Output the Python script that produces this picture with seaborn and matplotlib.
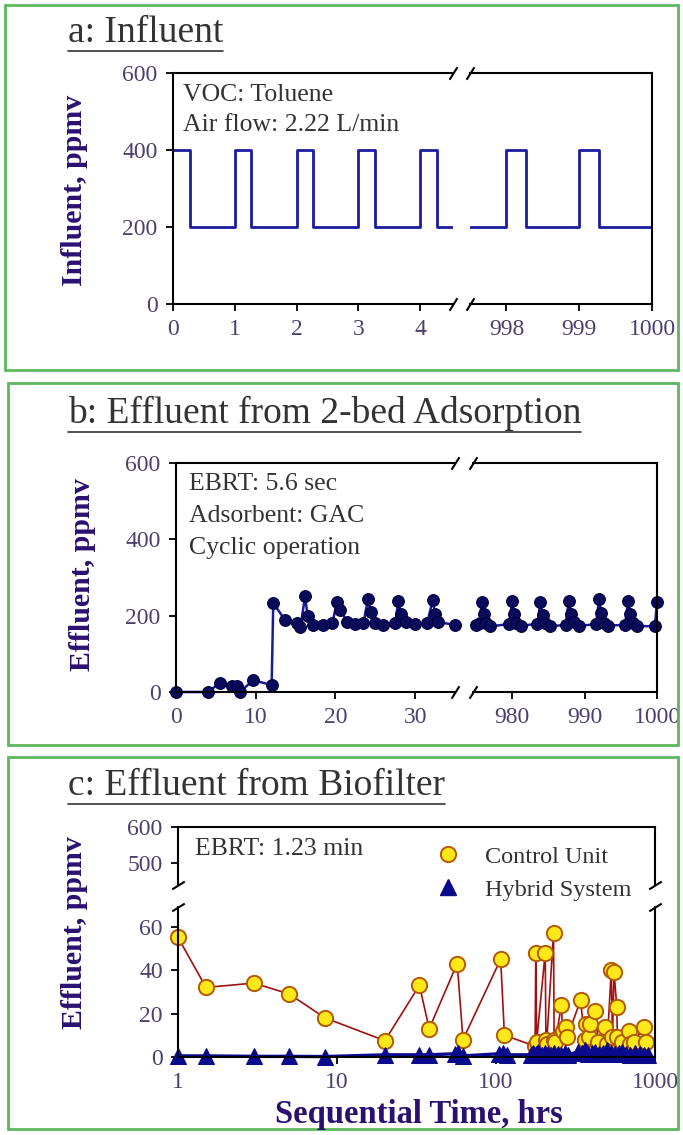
import numpy as np
import pandas as pd
import matplotlib
matplotlib.use("Agg")
import matplotlib.pyplot as plt
import seaborn as sns
from matplotlib.patches import Rectangle
from matplotlib.lines import Line2D
from matplotlib.ticker import NullLocator

# ---- data ----
# a: influent square wave (hrs, ppmv)
a_t_left = [0, 0.27, 1, 1.27, 2, 2.27, 3, 3.27, 4, 4.27, 4.53]
a_y_left = [400, 200, 400, 200, 400, 200, 400, 200, 400, 200, 200]
a_t_right = [997.5, 998, 998.27, 999, 999.27, 1000]
a_y_right = [200, 400, 200, 400, 200, 400]
a_ticks_left = [0, 1, 2, 3, 4]
a_ticks_right = [998, 999, 1000]

# b: effluent from 2-bed adsorption
b_t_left = [0, 4, 5.5, 7, 7.7, 8, 9.7, 12, 12.2, 13.7, 15.2, 15.6, 16.2, 16.5, 17.2,
            18.5, 19.6, 20.2, 20.6, 21.5, 22.5, 23.5, 24.1, 24.4, 25, 26, 27.5, 27.9,
            28.2, 28.8, 30, 31.5, 32.2, 32.5, 32.9, 35]
b_y_left = [0, 0, 24, 16, 16, 0, 31, 18, 233, 188, 181, 170, 251, 200, 175,
            176, 180, 236, 215, 183, 178, 180, 244, 210, 180, 176, 180, 238,
            205, 183, 177, 180, 240, 205, 183, 176]
b_t_right = [975, 975.5, 975.8, 976.1, 976.4, 977, 979.6, 980, 980.3, 980.6, 981.2,
             983.5, 983.9, 984.2, 984.6, 985.2, 987.4, 987.8, 988.1, 988.5, 989.2,
             991.6, 992, 992.3, 992.7, 993.3, 995.6, 996, 996.3, 996.7, 997.3,
             999.7, 1000]
b_y_right = [176, 180, 235, 205, 180, 172, 178, 238, 205, 182, 173,
             179, 236, 203, 181, 172, 176, 238, 205, 183, 173,
             178, 243, 208, 182, 174, 176, 238, 205, 181, 173,
             172, 236]
b_ticks_left = [0, 10, 20, 30]
b_ticks_right = [980, 990, 1000]

# c: effluent from biofilter
ctrl_t = [1, 1.5, 3, 5, 8.4, 20, 33, 38, 57, 62, 107, 113, 176, 178, 180, 204, 206,
          208, 230, 232, 236, 258, 262, 275, 280, 340, 362, 370, 382, 390, 420, 440,
          485, 500, 531, 540, 553, 575, 580, 620, 685, 700, 740, 853, 880]
ctrl_y = [55, 32, 34, 29, 18, 7.5, 33, 13, 43, 8, 45, 10, 5, 48, 7, 48, 8,
          6, 57, 8, 7, 24, 12, 14, 9, 26, 8, 15, 9, 15, 21, 7,
          14, 6, 40, 9, 39, 23, 9, 7, 12, 6, 7, 14, 7]
hyb_t = [1, 1.5, 3, 5, 8.4, 20, 33, 38, 55, 58, 62, 105, 110, 118, 165, 172, 178,
         185, 195, 204, 212, 222, 232, 245, 258, 270, 285, 330, 345, 362, 380, 400,
         420, 445, 470, 500, 530, 560, 590, 620, 660, 700, 750, 800, 850, 900]
hyb_y = [0.5, 0.5, 0.3, 0.3, 0.2, 1, 1, 1, 1.5, 2, 0.5, 1.5, 2, 1, 1, 2, 1.5,
         2.5, 1, 2, 1.5, 1, 2, 1.5, 1, 2, 1, 2.5, 2, 3, 1.5, 2,
         2.5, 1.5, 2, 3, 2, 1.5, 2, 2.5, 1.5, 1, 2, 1.5, 1, 1]
c_xticks = [1, 10, 100, 1000]
c_yticks_top = [500, 600]
c_yticks_bot = [0, 20, 40, 60]

# ---- figure ----
sns.set_theme(style="white")
plt.rcParams["font.family"] = ["Liberation Serif", "DejaVu Serif"]

W, H = 683, 1135
fig = plt.figure(figsize=(W / 100, H / 100), dpi=100)
fig.patch.set_facecolor("white")

TICK_C = "#4d3f6e"
LAB_C = "#2a1070"
TXT_C = "#333333"
GREEN = "#5cb85c"


def px(l, t, r, b):
    return [l / W, 1 - b / H, (r - l) / W, (b - t) / H]


def style(ax, left=True, right=True, top=True, bottom=True):
    ax.set_facecolor("none")
    for side, on in zip(["left", "right", "top", "bottom"], [left, right, top, bottom]):
        ax.spines[side].set_visible(on)
        ax.spines[side].set_color("black")
        ax.spines[side].set_linewidth(1.5)
    ax.tick_params(direction="out", length=5, width=1.3, color="black",
                   labelsize=17, labelcolor=TICK_C, pad=6,
                   left=left, bottom=bottom, labelleft=left, labelbottom=bottom)
    ax.set_xlabel("")
    ax.set_ylabel("")


def xbreak(ax_l, ax_r):
    kw = dict(marker=[(-1, -1.6), (1, 1.6)], markersize=9, linestyle="none",
              color="black", mec="black", mew=1.5, clip_on=False)
    ax_l.plot([1, 1], [0, 1], transform=ax_l.transAxes, **kw)
    ax_r.plot([0, 0], [0, 1], transform=ax_r.transAxes, **kw)


# green panel frames
for l, t, r, b in [(5, 5, 678, 370), (8, 383, 678, 745), (8, 757, 678, 1129)]:
    fig.add_artist(Rectangle((l / W, 1 - b / H), (r - l) / W, (b - t) / H,
                             transform=fig.transFigure, fill=False,
                             edgecolor=GREEN, linewidth=2))

titles = []
for txt, y in [("a: Influent", 33), ("b: Effluent from 2-bed Adsorption", 413),
               ("c: Effluent from Biofilter", 786)]:
    titles.append(fig.text(68 / W, 1 - y / H, txt, fontsize=27, color=TXT_C,
                           ha="left", va="center"))

# ---- panel a ----
axa1 = fig.add_axes(px(173, 73, 453, 304))
axa2 = fig.add_axes(px(470, 73, 652, 304))
sns.lineplot(x=a_t_left, y=a_y_left, ax=axa1, color="#1c1ca0", lw=2,
             drawstyle="steps-post", estimator=None, sort=False)
sns.lineplot(x=a_t_right, y=a_y_right, ax=axa2, color="#1c1ca0", lw=2,
             drawstyle="steps-post", estimator=None, sort=False)
axa1.set_xlim(0, 4.53)
axa2.set_xlim(997.5, 1000)
for ax in (axa1, axa2):
    ax.set_ylim(0, 600)
    ax.set_yticks([0, 200, 400, 600])
axa1.set_xticks(a_ticks_left)
axa2.set_xticks(a_ticks_right)
style(axa1, right=False)
style(axa2, left=False)
xbreak(axa1, axa2)
fig.text(75 / W, 1 - 190 / H, "Influent, ppmv", rotation=90, fontsize=21.5,
         fontweight="bold", color=LAB_C, ha="center", va="center")
axa1.text(0.035, 0.905, "VOC: Toluene", transform=axa1.transAxes, fontsize=18.5,
          color=TXT_C, va="center")
axa1.text(0.035, 0.775, "Air flow: 2.22 L/min", transform=axa1.transAxes,
          fontsize=18.5, color=TXT_C, va="center")

# ---- panel b ----
axb1 = fig.add_axes(px(176, 463, 455, 692))
axb2 = fig.add_axes(px(473, 463, 657, 692))
bkw = dict(color="#1a1aa0", lw=1.8, marker="o", markersize=8.5,
           markerfacecolor="#0b0b5c", markeredgecolor="#000040",
           estimator=None, sort=False, clip_on=False)
sns.lineplot(x=b_t_left, y=b_y_left, ax=axb1, **bkw)
sns.lineplot(x=b_t_right, y=b_y_right, ax=axb2, **bkw)
axb1.set_xlim(0, 35)
axb2.set_xlim(974.6, 1000)
for ax in (axb1, axb2):
    ax.set_ylim(0, 600)
    ax.set_yticks([0, 200, 400, 600])
axb1.set_xticks(b_ticks_left)
axb2.set_xticks(b_ticks_right)
style(axb1, right=False)
style(axb2, left=False)
xbreak(axb1, axb2)
fig.text(82 / W, 1 - 575 / H, "Effluent, ppmv", rotation=90, fontsize=21.5,
         fontweight="bold", color=LAB_C, ha="center", va="center")
for i, s in enumerate(["EBRT: 5.6 sec", "Adsorbent: GAC", "Cyclic operation"]):
    axb1.text(0.045, 0.91 - i * 0.14, s, transform=axb1.transAxes, fontsize=18.5,
              color=TXT_C, va="center")

# ---- panel c ----
axc1 = fig.add_axes(px(178, 827, 655, 885))
axc2 = fig.add_axes(px(178, 907, 655, 1057))
sns.lineplot(x=ctrl_t, y=ctrl_y, ax=axc2, color="#a01010", lw=1.2, marker="o",
             markersize=11, markerfacecolor="#ffe81a", markeredgecolor="#b35900",
             markeredgewidth=1.4, estimator=None, sort=False, clip_on=False)
sns.lineplot(x=hyb_t, y=hyb_y, ax=axc2, color="#0a0a8c", lw=2.4, marker="^",
             markersize=11, markerfacecolor="#0a0a8c", markeredgecolor="#0a0a8c",
             estimator=None, sort=False, clip_on=False)
for ax in (axc1, axc2):
    ax.set_xscale("log")
    ax.set_xlim(1, 1000)
    ax.xaxis.set_minor_locator(NullLocator())
axc1.set_ylim(439, 600)
axc1.set_yticks(c_yticks_top)
axc2.set_ylim(0, 69)
axc2.set_yticks(c_yticks_bot)
axc2.set_xticks(c_xticks)
axc2.set_xticklabels([str(v) for v in c_xticks])
style(axc1, bottom=False)
style(axc2, top=False)
axc1.tick_params(right=False)
axc2.tick_params(right=False)
ykw = dict(marker=[(-1.6, -1), (1.6, 1)], markersize=9, linestyle="none",
           color="black", mec="black", mew=1.5, clip_on=False)
axc1.plot([0, 1], [0, 0], transform=axc1.transAxes, **ykw)
axc2.plot([0, 1], [1, 1], transform=axc2.transAxes, **ykw)
fig.text(75 / W, 1 - 933 / H, "Effluent, ppmv", rotation=90, fontsize=21.5,
         fontweight="bold", color=LAB_C, ha="center", va="center")
fig.text(419 / W, 1 - 1114 / H, "Sequential Time, hrs", fontsize=23.5,
         fontweight="bold", color=LAB_C, ha="center", va="center")
axc1.text(0.035, 0.62, "EBRT: 1.23 min", transform=axc1.transAxes, fontsize=18.5,
          color=TXT_C, va="center")
handles = [Line2D([], [], ls="none", marker="o", markersize=11,
                  markerfacecolor="#ffe81a", markeredgecolor="#b35900",
                  markeredgewidth=1.4),
           Line2D([], [], ls="none", marker="^", markersize=11,
                  markerfacecolor="#0a0a8c", markeredgecolor="#0a0a8c")]
fig.legend(handles, ["Control Unit", "Hybrid System"], loc="upper left",
           bbox_to_anchor=(402 / W, 1 - 824 / H), frameon=False, fontsize=17.5,
           handletextpad=0.5, labelspacing=0.45, labelcolor=TXT_C)

# underline panel titles
fig.canvas.draw()
r = fig.canvas.get_renderer()
for t in titles:
    bb = t.get_window_extent(r)
    y = (bb.y0 - 1) / (H)
    fig.add_artist(Line2D([bb.x0 / W, bb.x1 / W], [y, y], transform=fig.transFigure,
                          color=TXT_C, lw=1.2))

fig.savefig("out.png", dpi=100)
